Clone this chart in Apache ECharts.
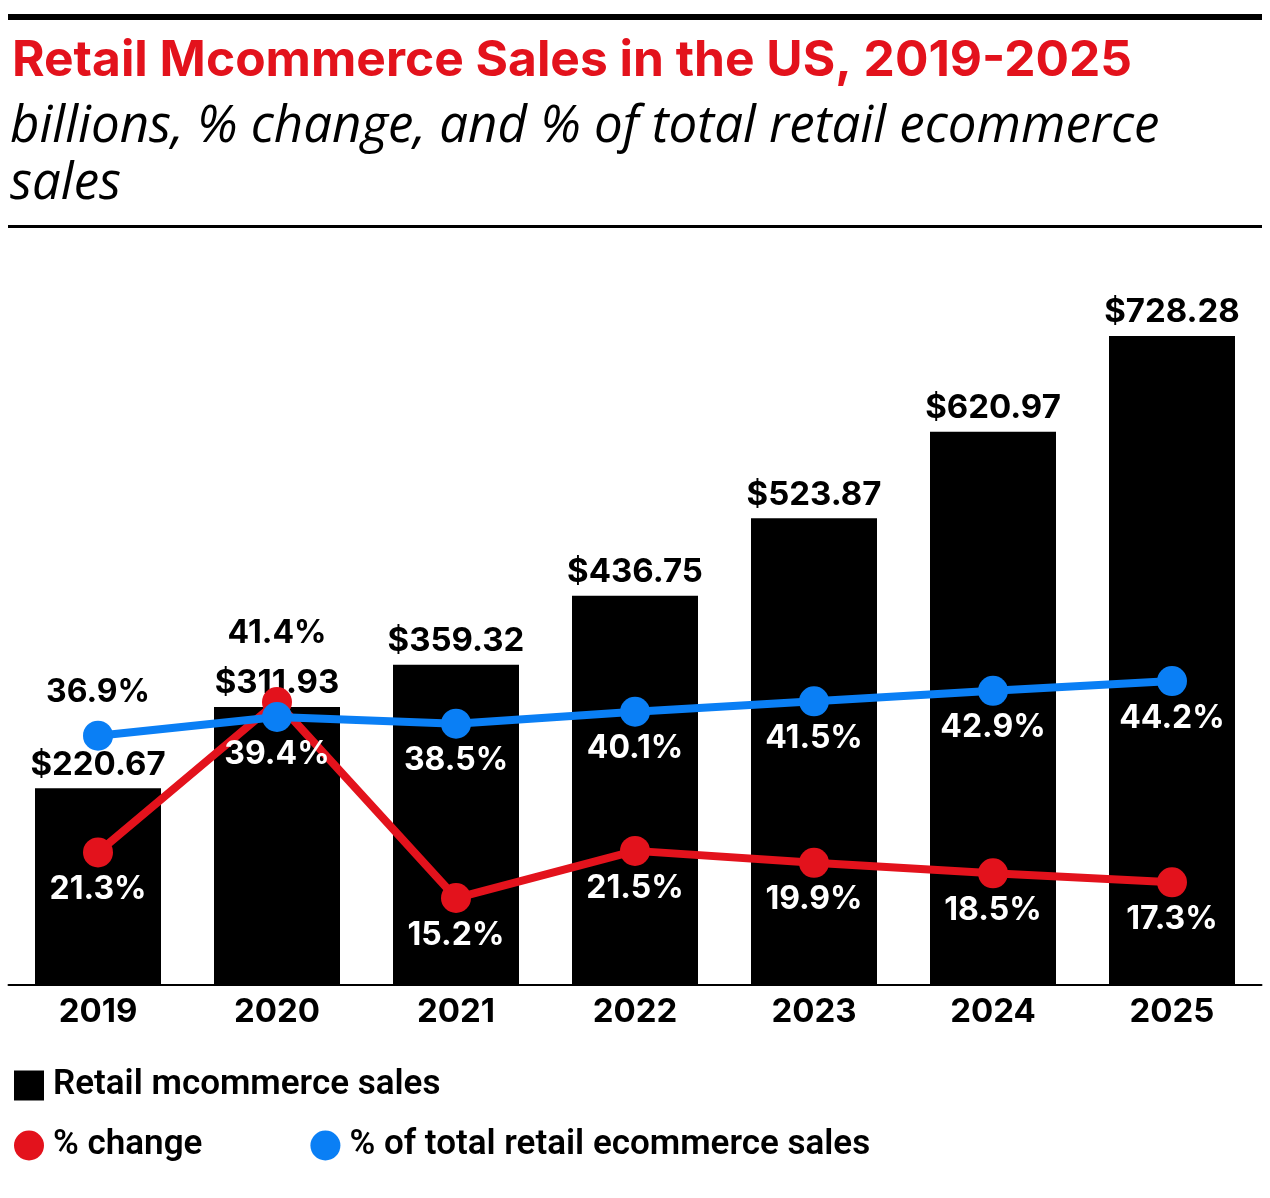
<!DOCTYPE html>
<html>
<head>
<meta charset="utf-8">
<script src="https://cdn.jsdelivr.net/npm/echarts@6/dist/echarts.min.js"></script>
<style>
  html, body { margin: 0; padding: 0; background: #fff; }
  #chart { width: 1270px; height: 1198px; }
</style>
</head>
<body>
<div id="chart"></div>
<script>
// values
var years = ['2019', '2020', '2021', '2022', '2023', '2024', '2025'];
var salesValues = [220.67, 311.93, 359.32, 436.75, 523.87, 620.97, 728.28];
var pctChange = [21.3, 41.4, 15.2, 21.5, 19.9, 18.5, 17.3];
var pctOfTotal = [36.9, 39.4, 38.5, 40.1, 41.5, 42.9, 44.2];

// points whose label sits above (outside the bar), index -> distance
var changeAbove = { 1: 38 };
var shareAbove = { 0: 12 };

var RED = '#e3121c';
var BLUE = '#0a7ff5';
var FONT = 'Inter, "Noto Sans", sans-serif';

function lineData(values, above) {
  return values.map(function (v, i) {
    var up = above[i] !== undefined;
    return {
      value: v,
      label: {
        position: up ? 'top' : 'bottom',
        distance: up ? above[i] : 6,
        color: up ? '#000' : '#fff'
      }
    };
  });
}

var myChart = echarts.init(document.getElementById('chart'));

var legendText = { fontSize: 35, fontWeight: 600, color: '#000', fontFamily: 'Roboto, sans-serif', padding: [0, 0, 0, 4] };

var option = {
  backgroundColor: '#fff',
  animation: false,
  textStyle: { fontFamily: FONT },
  graphic: [
    { type: 'rect', shape: { x: 8, y: 14, width: 1254, height: 6 }, style: { fill: '#000' } },
    { type: 'rect', shape: { x: 8, y: 225, width: 1254, height: 3 }, style: { fill: '#000' } },
    {
      type: 'text', left: 12, top: 36,
      style: { text: 'Retail Mcommerce Sales in the US, 2019-2025', fill: RED, font: 'bold 49.7px ' + FONT }
    },
    {
      type: 'text', left: 10, top: 99,
      style: {
        text: 'billions, % change, and % of total retail ecommerce\nsales',
        fill: '#000', font: 'italic 400 51px "Open Sans", "Noto Sans", sans-serif', lineHeight: 57
      }
    }
  ],
  legend: [
    {
      data: ['Retail mcommerce sales'],
      left: 14, top: 1068, padding: 0,
      icon: 'rect', itemWidth: 30, itemHeight: 30,
      textStyle: legendText
    },
    {
      data: ['% change', '% of total retail ecommerce sales'],
      left: 14, top: 1128, padding: 0,
      icon: 'circle', itemWidth: 30, itemHeight: 30, itemGap: 108,
      textStyle: legendText
    }
  ],
  grid: { left: 8.5, right: 8.5, top: 245, bottom: 213, containLabel: false },
  xAxis: {
    type: 'category',
    data: years,
    axisLine: { lineStyle: { color: '#000', width: 2 } },
    axisTick: { show: false },
    axisLabel: { color: '#000', fontSize: 33, fontWeight: 'bold', margin: 11 }
  },
  yAxis: [
    { type: 'value', min: 0, max: 830.4, show: false, splitLine: { show: false } },
    { type: 'value', min: 3.57, max: 102.5, show: false, splitLine: { show: false } }
  ],
  series: [
    {
      name: 'Retail mcommerce sales',
      type: 'bar',
      data: salesValues,
      barWidth: 126,
      itemStyle: { color: '#000' },
      label: {
        show: true, position: 'top', distance: 7,
        color: '#000', fontSize: 33, fontWeight: 'bold',
        formatter: function (p) { return '$' + p.value.toFixed(2); }
      }
    },
    {
      name: '% change',
      type: 'line',
      yAxisIndex: 1,
      data: lineData(pctChange, changeAbove),
      symbol: 'circle', symbolSize: 30,
      lineStyle: { color: RED, width: 8 },
      itemStyle: { color: RED },
      label: {
        show: true, fontSize: 32, fontWeight: 'bold',
        formatter: function (p) { return p.value.toFixed(1) + '%'; }
      }
    },
    {
      name: '% of total retail ecommerce sales',
      type: 'line',
      yAxisIndex: 1,
      data: lineData(pctOfTotal, shareAbove),
      symbol: 'circle', symbolSize: 30,
      lineStyle: { color: BLUE, width: 8 },
      itemStyle: { color: BLUE },
      label: {
        show: true, fontSize: 32, fontWeight: 'bold',
        formatter: function (p) { return p.value.toFixed(1) + '%'; }
      }
    }
  ]
};

myChart.setOption(option);
</script>
</body>
</html>
